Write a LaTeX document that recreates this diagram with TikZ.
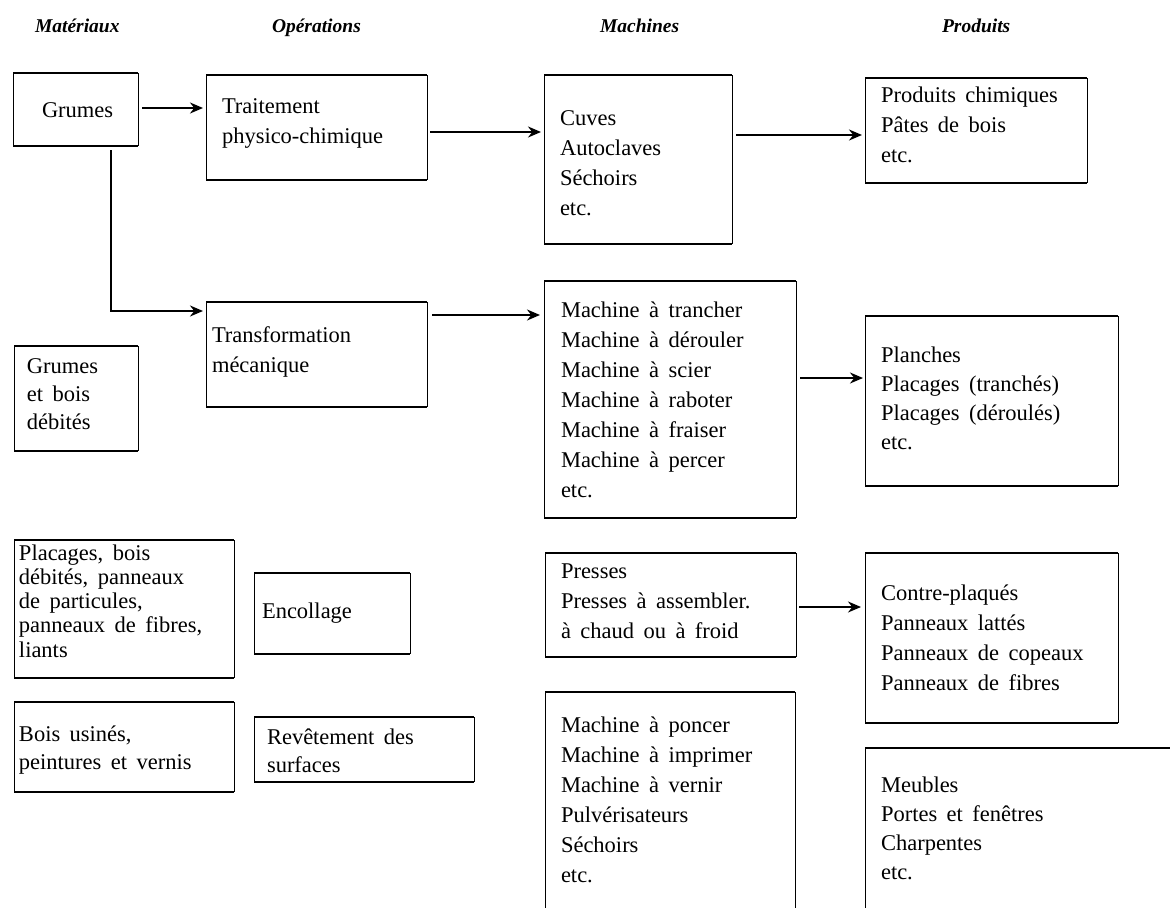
\documentclass[tikz,border=0pt]{standalone}
\usepackage{fontspec}
\setmainfont{Liberation Serif}
\usetikzlibrary{arrows.meta}
\newcommand\bodyfont{\fontsize{22.5}{30}\selectfont\spaceskip=0.42em plus 0.1em minus 0.05em\relax}
\newcommand\tightfont{\fontsize{22.5}{24.3}\selectfont\spaceskip=0.42em plus 0.1em minus 0.05em\relax}
\newcommand\mediumfont{\fontsize{22.5}{28}\selectfont\spaceskip=0.42em plus 0.1em minus 0.05em\relax}
\newcommand\prodfont{\fontsize{22.5}{29.3}\selectfont\spaceskip=0.42em plus 0.1em minus 0.05em\relax}
\newcommand\headfont{\fontsize{19.5}{24}\selectfont\bfseries\itshape}
\newcommand\fl{\rule{0pt}{20pt}}
\tikzset{
  area/.style={draw=none, rectangle, inner sep=0pt, outer sep=0pt},
  hline/.style={line width=1.7pt},
  vline/.style={line width=1pt},
  txt/.style={anchor=north west, inner sep=0pt, outer sep=0pt, align=left, font=\bodyfont},
  head/.style={anchor=base west, inner sep=0pt, outer sep=0pt, font=\headfont},
  arr/.style={line width=1.8pt, -{Stealth[length=13pt,width=11pt]}},
}
% name x1 y1 x2 y2
\newcommand\areaat[5]{%
  \node[area, minimum width={#4-#2}, minimum height={#5-#3}] (#1) at ({(#2+#4)/2},{(#3+#5)/2}) {};}
\newcommand\boxat[5]{%
  \areaat{#1}{#2}{#3}{#4}{#5}
  \draw[hline] (#1.north west) -- (#1.north east) (#1.south west) -- (#1.south east);
  \draw[vline] (#1.north west) -- (#1.south west) (#1.north east) -- (#1.south east);}
\begin{document}
\begin{tikzpicture}[x=1pt,y=-1pt]
\useasboundingbox (0,0) rectangle (1170,908);

% headers
\node[head] (hmat) at (35,32) {Matériaux};
\node[head] (hop) at (272,32) {Opérations};
\node[head] (hmach) at (600,32) {Machines};
\node[head] (hprod) at (942,32) {Produits};

% row 1
\boxat{grumes}{13}{73}{138}{146}
\node[txt] (tgrumes) at (42,97) {\fl Grumes};
\boxat{trait}{206}{75}{427}{180}
\node[txt] (ttrait) at (222,93) {\fl Traitement\\physico-chimique};
\boxat{cuves}{544}{75}{732}{244}
\node[txt] (tcuves) at (560,105) {\fl Cuves\\Autoclaves\\Séchoirs\\etc.};
\boxat{chim}{865}{78}{1087}{183}
\node[txt] (tchim) at (881,82) {\fl Produits chimiques\\Pâtes de bois\\etc.};

% row 2
\boxat{gbois}{14}{346}{138}{451}
\node[txt, font=\mediumfont] (tgbois) at (27,353) {\fl Grumes\\et bois\\débités};
\boxat{transf}{206}{302}{427}{407}
\node[txt] (ttransf) at (212,322) {\fl Transformation\\mécanique};
\boxat{mach}{544}{281}{796}{518}
\node[txt] (tmach) at (561,297) {\fl Machine à trancher\\Machine à dérouler\\Machine à scier\\Machine à raboter\\Machine à fraiser\\Machine à percer\\etc.};
\boxat{planches}{865}{316}{1118}{486}
\node[txt, font=\prodfont] (tplanches) at (881,342) {\fl Planches\\Placages (tranchés)\\Placages (déroulés)\\etc.};

% row 3
\boxat{plac}{14}{540}{234}{678}
\node[txt, font=\tightfont] (tplac) at (19,540) {\fl Placages, bois\\débités, panneaux\\de particules,\\panneaux de fibres,\\liants};
\boxat{encol}{254}{573}{410}{654}
\node[txt] (tencol) at (262,598) {\fl Encollage};
\boxat{presses}{545}{553}{796}{657}
\node[txt] (tpresses) at (561,558) {\fl Presses\\Presses à assembler.\\à chaud ou à froid};
\boxat{contre}{865}{553}{1118}{723}
\node[txt] (tcontre) at (881,580) {\fl Contre-plaqués\\Panneaux lattés\\Panneaux de copeaux\\Panneaux de fibres};

% row 4
\boxat{usin}{14}{702}{234}{792}
\node[txt, font=\mediumfont] (tusin) at (19,721) {\fl Bois usinés,\\peintures et vernis};
\boxat{revet}{254}{717}{474}{782}
\node[txt, font=\mediumfont] (trevet) at (267,724) {\fl Revêtement des\\surfaces};
\areaat{poncer}{545}{692}{795}{908}
\draw[hline] (poncer.north west) -- (poncer.north east);
\draw[vline] (poncer.north west) -- (poncer.south west) (poncer.north east) -- (poncer.south east);
\node[txt] (tponcer) at (561,712) {\fl Machine à poncer\\Machine à imprimer\\Machine à vernir\\Pulvérisateurs\\Séchoirs\\etc.};
\areaat{meubles}{865}{748}{1170}{908}
\draw[hline] (meubles.north west) -- (meubles.north east);
\draw[vline] (meubles.north west) -- (meubles.south west);
\node[txt, font=\prodfont] (tmeubles) at (881,772) {\fl Meubles\\Portes et fenêtres\\Charpentes\\etc.};

% connectors
\draw[arr] ([xshift=4pt]grumes.east |- 0,108) -- ([xshift=-3pt]trait.west |- 0,108);
\draw[arr] ([xshift=3pt]trait.east |- 0,132) -- ([xshift=-3pt]cuves.west |- 0,132);
\draw[arr] ([xshift=4pt]cuves.east |- 0,135) -- ([xshift=-3pt]chim.west |- 0,135);
\draw[arr] ([xshift=-27pt,yshift=-4pt]grumes.south east) |- ([xshift=-3pt]transf.west |- 0,311);
\draw[arr] ([xshift=5pt]transf.east |- 0,315) -- ([xshift=-4pt]mach.west |- 0,315);
\draw[arr] ([xshift=4pt]mach.east |- 0,378) -- ([xshift=-2pt]planches.west |- 0,378);
\draw[arr] ([xshift=3pt]presses.east |- 0,607) -- ([xshift=-4pt]contre.west |- 0,607);
\end{tikzpicture}
\end{document}
